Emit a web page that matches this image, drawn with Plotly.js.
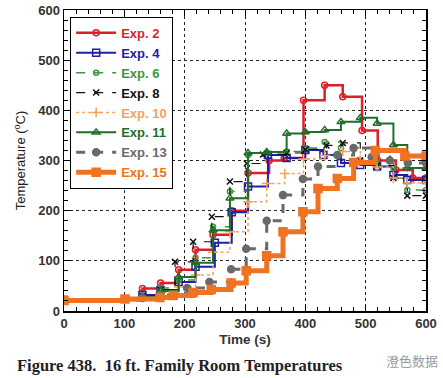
<!DOCTYPE html>
<html><head><meta charset="utf-8">
<script src="https://cdn.plot.ly/plotly-3.0.1.min.js"></script>
<style>html,body{margin:0;padding:0;background:#fff;}#chart{width:443px;height:378px;}</style>
</head><body><div id="chart"></div>
<script>
// Step-start times (s) and temperatures (°C)
const exp2_t  = [0,130,160,190,218,247,278,305,340,365,397,432,462,494,520,550,578,600];
const exp2_T  = [22,45,56,82,122,152,200,275,300,305,420,450,427,360,300,281,265,265];
const exp4_t  = [0,130,160,190,218,250,278,305,338,369,400,430,459,491,519,546,569,600];
const exp4_T  = [22,32,42,58,88,136,197,248,311,305,321,311,295,291,288,271,261,261];
const exp6_t  = [0,130,160,190,218,247,275,305,336,369,400,432,459,491,519,546,569,600];
const exp6_T  = [22,30,46,62,106,168,238,311,315,318,325,337,325,300,295,285,241,241];
const exp8_t  = [0,130,160,184,214,245,275,303,330,369,400,435,462,491,519,546,569,600];
const exp8_T  = [22,30,42,98,138,188,258,294,312,315,322,330,335,300,290,265,230,230];
const exp10_t = [0,130,160,190,218,247,275,305,336,366,397,432,462,491,519,546,569,600];
const exp10_T = [22,28,38,48,72,117,158,218,254,274,303,310,318,300,287,265,255,255];
const exp11_t = [0,130,160,190,218,247,275,305,336,369,400,432,459,491,519,546,569,600];
const exp11_T = [22,28,40,68,96,161,225,315,317,354,357,361,377,385,374,331,285,285];
const exp13_t = [0,130,160,204,241,277,302,336,363,396,421,453,480,510,540,570,600];
const exp13_T = [22,26,32,46,58,83,124,180,231,263,288,311,325,307,300,295,295];
const exp15_t = [0,101,159,181,214,244,277,302,336,363,396,421,453,480,516,565,600];
const exp15_T = [21,24,27,31,37,43,56,80,110,158,198,244,264,296,320,309,309];

const xTicks = [0,100,200,300,400,500,600];
const yTicks = [0,100,200,300,400,500,600];

const names = ['Exp. 2','Exp. 4','Exp. 6','Exp. 8','Exp. 10','Exp. 11','Exp. 13','Exp. 15'];
const xs = [exp2_t,exp4_t,exp6_t,exp8_t,exp10_t,exp11_t,exp13_t,exp15_t];
const ys = [exp2_T,exp4_T,exp6_T,exp8_T,exp10_T,exp11_T,exp13_T,exp15_T];
const colors = ['#dd1f26','#1f20a8','#3a9a3a','#111111','#f3a35a','#1f6e2a','#6a6a6a','#ef7320'];
const textColors = ['#dd1f26','#1f20a8','#3a9a3a','#111111','#f3a35a','#1f6e2a','#6a6a6a','#ef7320'];
const dashes = ['solid','solid','dash','dash','dot','solid','dash','solid'];
const widths = [2.5,2,1.5,1.2,1.5,2,3,5];
const symbols = ['circle-open','square-open','circle-open','x-thin-open','cross-thin-open','triangle-up-open','circle','square'];
const msizes = [6,7,5,6,7,7,7,8];

const traces = names.map((n,i)=>({
  x: xs[i], y: ys[i], type:'scatter', mode:'lines+markers',
  name: '<span style="color:'+textColors[i]+'">'+n+'</span>',
  line:{color:colors[i], width:widths[i], dash:dashes[i], shape:'hv'},
  marker:{symbol:symbols[i], size:msizes[i], color:colors[i], line:{color:colors[i], width:1.5}}
}));

const axisCommon = {
  showline:true, linecolor:'#000', linewidth:1.5, mirror:'ticks',
  ticks:'inside', ticklen:6, tickcolor:'#000',
  showgrid:true, gridcolor:'#222', griddash:'dot', gridwidth:1,
  zeroline:false,
  tickfont:{family:'Liberation Sans, Arial', size:13, color:'#333', weight:'bold'}
};

const layout = {
  width:443, height:378,
  margin:{l:64, r:17, t:10, b:67},
  paper_bgcolor:'#fff', plot_bgcolor:'#fff',
  showlegend:true,
  legend:{x:0.017, y:0.977, xanchor:'left', yanchor:'top', bgcolor:'#fff',
    bordercolor:'#000', borderwidth:1,
    font:{family:'Liberation Sans, Arial', size:13, weight:'bold'}, tracegroupgap:0, itemwidth:40},
  xaxis:Object.assign({}, axisCommon, {range:[0,600], tickvals:xTicks, ticktext:xTicks.map(String),
    minor:{ticks:'inside', ticklen:4, tickcolor:'#000', dtick:20, showgrid:false},
    title:{text:'<b>Time (s)</b>', font:{family:'Liberation Sans, Arial', size:13.5, color:'#333'}, standoff:4}}),
  yaxis:Object.assign({}, axisCommon, {range:[0,600], tickvals:yTicks, ticktext:yTicks.map(String),
    minor:{ticks:'inside', ticklen:4, tickcolor:'#000', dtick:20, showgrid:false},
    title:{text:'Temperature (<sup>o</sup>C)', font:{family:'Liberation Sans, Arial', size:13, color:'#222'}, standoff:9}}),
  annotations:[
    {xref:'paper', yref:'paper', x:-0.135, y:-0.18, xanchor:'left', yanchor:'middle', showarrow:false,
     text:'<b>Figure 438.  16 ft. Family Room Temperatures</b>',
     font:{family:'Liberation Serif, Times New Roman', size:16.5, color:'#222'}},
    {xref:'paper', yref:'paper', x:1.04, y:-0.165, xanchor:'right', yanchor:'middle', showarrow:false,
     text:'澄色数据', font:{family:'Noto Sans CJK SC', size:13, color:'#9a9a9a'}}
  ]
};

Plotly.newPlot('chart', traces, layout, {displayModeBar:false, staticPlot:true});
</script></body></html>
